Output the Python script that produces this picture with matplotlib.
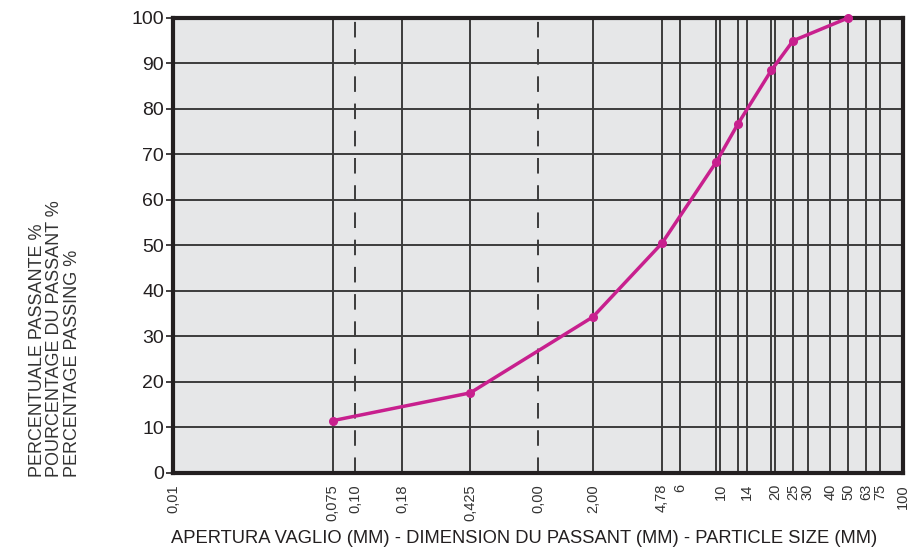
import matplotlib.pyplot as plt
from matplotlib.ticker import FixedLocator, FixedFormatter, NullLocator

plt.rcParams['font.family'] = ['Liberation Sans', 'DejaVu Sans']

# sieve sizes (mm) and passing percentage
sizes = [0.075, 0.425, 2.0, 4.78, 9.5, 12.5, 19, 25, 50]
passing = [11.5, 17.6, 34.3, 50.5, 68.4, 76.8, 88.5, 95, 100]

# x tick values and their printed labels
tick_values = [0.01, 0.075, 0.10, 0.18, 0.425, 1.0, 2.0, 4.78, 6, 10, 14, 20, 25, 30, 40, 50, 63, 75, 100]
tick_labels = ['0,01', '0,075', '0,10', '0,18', '0,425', '0,00', '2,00', '4,78', '6',
               '10', '14', '20', '25', '30', '40', '50', '63', '75', '100']

# vertical grid lines
solid_lines = [0.075, 0.18, 0.425, 2.0, 4.78, 6, 9.5, 10, 12.5, 14, 19, 20, 25, 30, 40, 50, 63, 75]
dashed_lines = [0.10, 1.0]

dark = '#231f20'
grid_col = '#3c3c3c'
magenta = '#c8208e'

fig = plt.figure(figsize=(9.13, 5.53), dpi=100)
ax = fig.add_axes([0.1895, 0.1447, 0.7995, 0.8228])
ax.set_facecolor('#e6e7e8')

ax.set_xscale('log')
ax.set_xlim(0.01, 100)
ax.set_ylim(0, 100)

for v in solid_lines:
    ax.axvline(v, color=grid_col, lw=1.4, zorder=1)
for v in dashed_lines:
    ax.axvline(v, color=grid_col, lw=1.4, ls=(0, (8, 6)), zorder=1)
for y in range(10, 100, 10):
    ax.axhline(y, color=grid_col, lw=1.4, zorder=1)

ax.plot(sizes, passing, color=magenta, lw=2.5, marker='o', ms=5.5, zorder=3, clip_on=False)

ax.xaxis.set_major_locator(FixedLocator(tick_values))
ax.xaxis.set_major_formatter(FixedFormatter(tick_labels))
ax.xaxis.set_minor_locator(NullLocator())
ax.tick_params(axis='x', length=0, pad=8, labelsize=10.5, labelrotation=90, labelcolor='#333333')
ax.set_yticks(range(0, 101, 10))
ax.tick_params(axis='y', length=5, width=1.2, color=dark, pad=1.5, labelsize=14, labelcolor=dark)

for s in ax.spines.values():
    s.set_linewidth(3)
    s.set_color(dark)

fig.text(0.06, 0.137, 'PERCENTUALE PASSANTE %\nPOURCENTAGE DU PASSANT %\nPERCENTAGE PASSING %',
         rotation=90, ha='center', va='bottom', multialignment='left',
         fontsize=13, color='#333333', linespacing=1.02)
fig.text(0.574, 0.01, 'APERTURA VAGLIO (MM) - DIMENSION DU PASSANT (MM) - PARTICLE SIZE (MM)',
         ha='center', va='bottom', fontsize=13.2, color=dark)

fig.savefig('out.png', dpi=100)
